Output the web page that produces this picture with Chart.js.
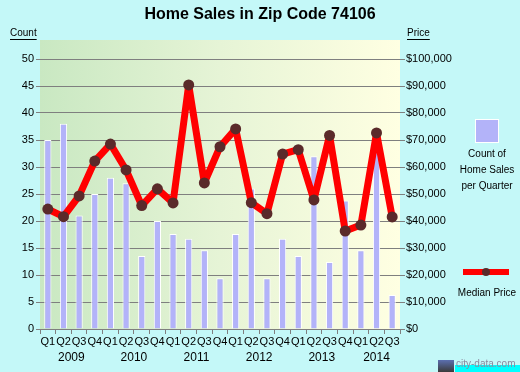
<!DOCTYPE html>
<html>
<head>
<meta charset="utf-8">
<script src="https://cdn.jsdelivr.net/npm/chart.js@4.4.0/dist/chart.umd.min.js"></script>
<style>
  html, body { margin: 0; padding: 0; background: #c4f8f8; }
  canvas { display: block; }
</style>
</head>
<body>
<canvas id="salesChart" width="520" height="372"></canvas>
<script>
// --- Data ---
const quarters = ['Q1','Q2','Q3','Q4','Q1','Q2','Q3','Q4','Q1','Q2','Q3','Q4','Q1','Q2','Q3','Q4','Q1','Q2','Q3','Q4','Q1','Q2','Q3'];
const years = ['2009', '2010', '2011', '2012', '2013', '2014'];
const salesCount = [35, 38, 21, 25, 28, 27, 13.5, 20, 17.6, 16.7, 14.6, 9.4, 17.6, 26, 9.4, 16.7, 13.5, 32, 12.4, 23.8, 14.6, 34, 6.3];
const medianPrice = [44400, 41600, 49300, 62200, 68500, 58900, 45700, 51900, 46700, 90400, 54100, 67500, 74100, 46800, 42700, 64800, 66400, 47800, 71700, 36300, 38500, 72600, 41500];
const countTicks = [0, 5, 10, 15, 20, 25, 30, 35, 40, 45, 50];
const priceTicks = [0, 10000, 20000, 30000, 40000, 50000, 60000, 70000, 80000, 90000, 100000];

// --- Colors ---
const barColor = '#b3b3f9';
const lineColor = '#ff0000';
const dotColor = '#5a2a2a';
const gridColor = '#7f7f7f';
const fontFamily = 'Arial, "Liberation Sans", sans-serif';

// plot background gradient
const plotBackground = {
    id: 'plotBackground',
    beforeDraw(chart) {
        const { ctx, chartArea: a } = chart;
        const g = ctx.createLinearGradient(a.left, 0, a.right, 0);
        g.addColorStop(0, '#c9e8c2');
        g.addColorStop(0.5, '#e6f4d6');
        g.addColorStop(1, '#ffffe2');
        ctx.save();
        ctx.fillStyle = g;
        ctx.fillRect(a.left, a.top - 19, a.right - a.left, a.bottom - a.top + 19);
        ctx.restore();
    }
};

// title, axis captions, year labels, legend
const decorations = {
    id: 'decorations',
    afterDraw(chart) {
        const { ctx, scales } = chart;
        ctx.save();
        ctx.fillStyle = '#000';
        ctx.textBaseline = 'middle';

        ctx.font = 'bold 16px ' + fontFamily;
        ctx.textAlign = 'center';
        ctx.fillText('Home Sales in Zip Code 74106', 260, 15);

        ctx.font = '10px ' + fontFamily;
        ctx.textAlign = 'left';
        ctx.fillText('Count', 10, 33);
        ctx.fillText('Price', 407, 33);
        ctx.fillRect(10, 39, ctx.measureText('Count').width, 1);
        ctx.fillRect(407, 39, ctx.measureText('Price').width, 1);

        // year labels under quarter groups
        ctx.font = '12px ' + fontFamily;
        ctx.textAlign = 'center';
        years.forEach((y, i) => {
            const first = i * 4;
            const last = Math.min(first + 3, quarters.length - 1);
            const x = (scales.x.getPixelForValue(first) + scales.x.getPixelForValue(last)) / 2;
            ctx.fillText(y, x, 358);
        });

        // legend: bars
        ctx.fillStyle = barColor;
        ctx.fillRect(475, 120, 23, 23);
        ctx.strokeStyle = '#ffffff';
        ctx.lineWidth = 1;
        ctx.strokeRect(475.5, 119.5, 23, 23);
        ctx.fillStyle = '#000';
        ctx.font = '10px ' + fontFamily;
        ctx.fillText('Count of', 487, 154);
        ctx.fillText('Home Sales', 487, 170);
        ctx.fillText('per Quarter', 487, 186);

        // legend: line
        ctx.fillStyle = lineColor;
        ctx.fillRect(463, 269, 46, 6);
        ctx.fillStyle = dotColor;
        ctx.beginPath();
        ctx.arc(486, 272, 4, 0, Math.PI * 2);
        ctx.fill();
        ctx.fillStyle = '#000';
        ctx.fillText('Median Price', 487, 293);

        // watermark
        const icon = ctx.createLinearGradient(0, 360, 0, 372);
        icon.addColorStop(0, '#5b6fb0');
        icon.addColorStop(1, '#3a3a3a');
        ctx.fillStyle = icon;
        ctx.fillRect(438, 360, 16, 12);
        ctx.fillStyle = '#00ffff';
        ctx.fillRect(455, 365, 65, 7);
        ctx.fillStyle = '#8a8aa0';
        ctx.font = '10px ' + fontFamily;
        ctx.textAlign = 'left';
        ctx.fillText('city-data.com', 456, 364);
        ctx.restore();
    }
};

const ctx = document.getElementById('salesChart').getContext('2d');
new Chart(ctx, {
    data: {
        labels: quarters,
        datasets: [
            {
                type: 'line',
                label: 'Median Price',
                data: medianPrice,
                yAxisID: 'y2',
                borderColor: lineColor,
                borderWidth: 7,
                borderJoinStyle: 'round',
                borderCapStyle: 'round',
                pointRadius: 5.5,
                pointBackgroundColor: dotColor,
                pointBorderWidth: 0,
                tension: 0,
                order: 0
            },
            {
                type: 'bar',
                label: 'Count of Home Sales per Quarter',
                data: salesCount,
                yAxisID: 'y',
                backgroundColor: barColor,
                borderColor: '#ffffff',
                borderWidth: 1,
                barPercentage: 0.46,
                categoryPercentage: 1,
                order: 1
            }
        ]
    },
    options: {
        responsive: false,
        animation: false,
        devicePixelRatio: 1,
        layout: { padding: { top: 59, left: 0, right: 0, bottom: 0 } },
        plugins: {
            legend: { display: false },
            title: { display: false },
            tooltip: { enabled: false }
        },
        scales: {
            x: {
                offset: true,
                grid: { offset: true, drawOnChartArea: false, color: gridColor, tickLength: 5 },
                border: { color: gridColor },
                ticks: {
                    autoSkip: false, maxRotation: 0, minRotation: 0, padding: 1,
                    color: '#000', font: { family: fontFamily, size: 11 }
                },
                afterFit: (s) => { s.height = 43; }
            },
            y: {
                position: 'left',
                min: 0, max: 50,
                afterBuildTicks: (s) => { s.ticks = countTicks.map(v => ({ value: v })); },
                grid: { color: gridColor, tickLength: 4 },
                border: { display: false },
                ticks: { padding: 2, color: '#000', font: { family: fontFamily, size: 11 } },
                afterFit: (s) => { s.width = 40; }
            },
            y2: {
                position: 'right',
                min: 0, max: 100000,
                afterBuildTicks: (s) => { s.ticks = priceTicks.map(v => ({ value: v })); },
                grid: { drawOnChartArea: false, color: gridColor, tickLength: 5 },
                border: { display: false },
                ticks: {
                    padding: 1, color: '#000', font: { family: fontFamily, size: 11 },
                    callback: (v) => '$' + v.toLocaleString('en-US')
                },
                afterFit: (s) => { s.width = 120; }
            }
        }
    },
    plugins: [plotBackground, decorations]
});
</script>
</body>
</html>
